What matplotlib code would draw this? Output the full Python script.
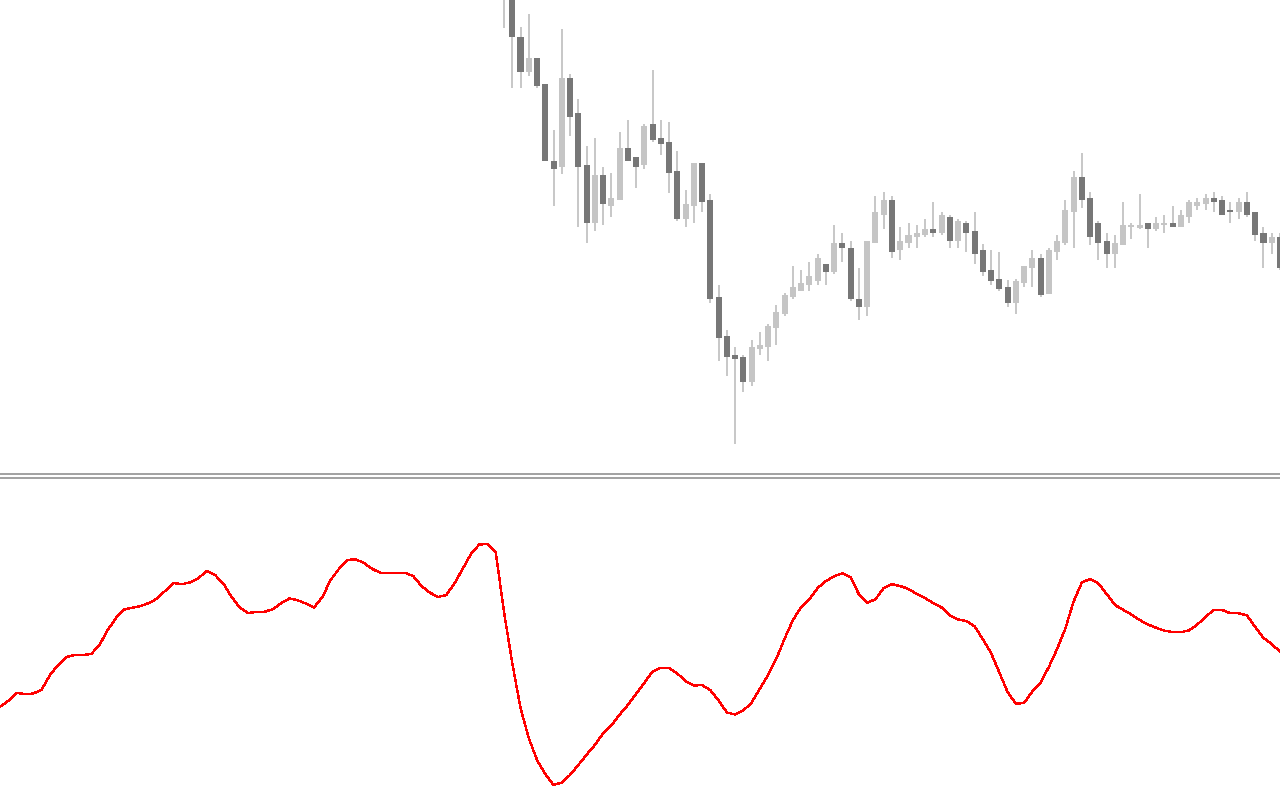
import numpy as np
import matplotlib
matplotlib.use("Agg")
import matplotlib.pyplot as plt

# ----------------------------
# Data
# ----------------------------

# candles: first visible candle sits on bar 61 of the oscillator series
CANDLE_START = 61

opens = [1.1510, 1.1508, 1.1463, 1.1428, 1.1442, 1.1416, 1.1339, 1.1333, 1.1422, 1.1387,
         1.1335, 1.1277, 1.1325, 1.1294, 1.1300, 1.1352, 1.1343, 1.1335, 1.1376, 1.1362,
         1.1358, 1.1329, 1.1281, 1.1294, 1.1337, 1.1300, 1.1203, 1.1164, 1.1145, 1.1143,
         1.1118, 1.1151, 1.1153, 1.1172, 1.1186, 1.1203, 1.1209, 1.1215, 1.1219, 1.1236,
         1.1228, 1.1257, 1.1252, 1.1201, 1.1193, 1.1257, 1.1285, 1.1300, 1.1250, 1.1257,
         1.1263, 1.1265, 1.1271, 1.1267, 1.1283, 1.1259, 1.1277, 1.1269, 1.1250, 1.1230,
         1.1221, 1.1213, 1.1197, 1.1217, 1.1232, 1.1242, 1.1206, 1.1248, 1.1257, 1.1288,
         1.1323, 1.1302, 1.1277, 1.1259, 1.1246, 1.1255, 1.1273, 1.1272, 1.1277, 1.1271,
         1.1275, 1.1277, 1.1273, 1.1283, 1.1294, 1.1296, 1.1302, 1.1300, 1.1290, 1.1288,
         1.1298, 1.1288, 1.1267, 1.1257, 1.1263]
highs = [1.1560, 1.1512, 1.1473, 1.1486, 1.1442, 1.1416, 1.1370, 1.1471, 1.1426, 1.1401,
         1.1354, 1.1362, 1.1333, 1.1327, 1.1368, 1.1380, 1.1343, 1.1376, 1.1430, 1.1380,
         1.1378, 1.1349, 1.1310, 1.1337, 1.1337, 1.1306, 1.1215, 1.1170, 1.1153, 1.1145,
         1.1160, 1.1168, 1.1176, 1.1195, 1.1207, 1.1234, 1.1230, 1.1238, 1.1246, 1.1236,
         1.1275, 1.1267, 1.1259, 1.1232, 1.1259, 1.1304, 1.1308, 1.1304, 1.1273, 1.1277,
         1.1275, 1.1281, 1.1298, 1.1288, 1.1285, 1.1281, 1.1279, 1.1288, 1.1256, 1.1250,
         1.1248, 1.1220, 1.1221, 1.1234, 1.1250, 1.1246, 1.1252, 1.1265, 1.1300, 1.1329,
         1.1347, 1.1308, 1.1279, 1.1267, 1.1265, 1.1298, 1.1277, 1.1306, 1.1277, 1.1283,
         1.1285, 1.1294, 1.1290, 1.1300, 1.1302, 1.1306, 1.1308, 1.1304, 1.1298, 1.1302,
         1.1308, 1.1288, 1.1273, 1.1267, 1.1267]
lows = [1.1472, 1.1412, 1.1412, 1.1424, 1.1412, 1.1339, 1.1294, 1.1326, 1.1364, 1.1273,
        1.1257, 1.1269, 1.1275, 1.1283, 1.1300, 1.1339, 1.1312, 1.1331, 1.1358, 1.1345,
        1.1307, 1.1279, 1.1273, 1.1277, 1.1288, 1.1197, 1.1139, 1.1124, 1.1056, 1.1108,
        1.1114, 1.1145, 1.1139, 1.1155, 1.1184, 1.1201, 1.1209, 1.1209, 1.1215, 1.1215,
        1.1226, 1.1238, 1.1199, 1.1180, 1.1184, 1.1257, 1.1271, 1.1242, 1.1240, 1.1252,
        1.1252, 1.1263, 1.1263, 1.1265, 1.1252, 1.1252, 1.1248, 1.1236, 1.1224, 1.1215,
        1.1209, 1.1193, 1.1186, 1.1213, 1.1213, 1.1203, 1.1206, 1.1240, 1.1255, 1.1252,
        1.1292, 1.1255, 1.1240, 1.1232, 1.1232, 1.1255, 1.1261, 1.1271, 1.1252, 1.1269,
        1.1267, 1.1273, 1.1273, 1.1277, 1.1290, 1.1290, 1.1288, 1.1285, 1.1277, 1.1281,
        1.1283, 1.1259, 1.1232, 1.1246, 1.1230]
closes = [1.1535, 1.1463, 1.1428, 1.1442, 1.1414, 1.1339, 1.1331, 1.1422, 1.1383, 1.1333,
          1.1277, 1.1325, 1.1296, 1.1302, 1.1352, 1.1339, 1.1333, 1.1374, 1.1360, 1.1356,
          1.1327, 1.1281, 1.1296, 1.1337, 1.1298, 1.1201, 1.1162, 1.1143, 1.1141, 1.1118,
          1.1153, 1.1155, 1.1174, 1.1188, 1.1205, 1.1213, 1.1217, 1.1224, 1.1242, 1.1228,
          1.1257, 1.1252, 1.1201, 1.1193, 1.1259, 1.1288, 1.1300, 1.1248, 1.1259, 1.1265,
          1.1267, 1.1271, 1.1267, 1.1285, 1.1259, 1.1279, 1.1267, 1.1246, 1.1228, 1.1219,
          1.1211, 1.1197, 1.1219, 1.1234, 1.1242, 1.1205, 1.1250, 1.1259, 1.1290, 1.1323,
          1.1300, 1.1263, 1.1257, 1.1246, 1.1257, 1.1275, 1.1275, 1.1275, 1.1271, 1.1277,
          1.1277, 1.1273, 1.1285, 1.1298, 1.1298, 1.1302, 1.1298, 1.1285, 1.1288, 1.1298,
          1.1285, 1.1265, 1.1257, 1.1263, 1.1232]

# oscillator, one value per bar (bar 0 at the left edge)
osc = [33.4, 35.8, 38.9, 38.3, 38.6, 40.2, 46.0, 50.0, 53.2, 54.0,
       54.0, 54.4, 58.0, 64.0, 68.8, 72.2, 72.9, 73.6, 74.8, 76.6,
       79.8, 82.8, 82.3, 83.1, 84.8, 87.6, 86.0, 82.6, 77.2, 73.0,
       70.8, 71.2, 71.3, 72.3, 74.7, 76.6, 75.9, 74.6, 73.0, 77.2,
       84.0, 88.4, 92.0, 92.3, 90.9, 88.5, 86.9, 86.9, 86.9, 86.9,
       85.6, 81.6, 79.0, 77.2, 78.0, 82.6, 88.5, 94.4, 98.2, 98.4,
       95.2, 71.2, 50.8, 32.8, 20.8, 12.0, 6.4, 2.0, 3.0, 6.0,
       10.0, 14.1, 18.0, 22.6, 25.8, 30.1, 34.0, 38.4, 42.9, 47.4,
       48.9, 48.8, 46.6, 43.5, 41.8, 42.0, 39.9, 35.8, 31.0, 30.2,
       31.8, 35.0, 40.6, 46.0, 52.6, 60.6, 68.0, 73.1, 76.4, 80.8,
       83.6, 85.5, 86.7, 85.0, 78.2, 74.9, 76.3, 80.8, 82.3, 81.6,
       80.4, 78.4, 76.8, 74.7, 73.0, 69.8, 68.2, 67.6, 65.4, 60.4,
       54.8, 47.0, 39.2, 34.5, 34.8, 39.4, 43.0, 49.2, 56.4, 64.6,
       75.4, 83.0, 84.4, 82.6, 78.4, 74.0, 72.1, 70.2, 68.0, 66.2,
       64.9, 63.7, 63.2, 63.1, 63.9, 66.2, 69.4, 72.0, 72.0, 70.7,
       70.7, 69.8, 65.2, 60.8, 58.4, 55.3]

# ----------------------------
# Styling
# ----------------------------

DARK = "#777777"
LIGHT = "#c5c5c5"
WICK = "#c8c8c8"
SEP = "#919191"
RED = "#ff0000"

W, H = 1280, 800
fig = plt.figure(figsize=(W / 100, H / 100), dpi=100, facecolor="white")

# price panel from the top down to the separator, oscillator below it
ax_p = fig.add_axes([0, (H - 474) / H, 1, 474 / H])
ax_o = fig.add_axes([0, 0, 1, (H - 478) / H])

for ax in (ax_p, ax_o):
    ax.set_facecolor("white")
    ax.set_xticks([])
    ax.set_yticks([])
    for s in ax.spines.values():
        s.set_visible(False)
    ax.set_xlim(-0.05, 155.0)

ax_p.spines["bottom"].set_visible(True)
ax_p.spines["bottom"].set_color(SEP)
ax_p.spines["bottom"].set_linewidth(1.2)
ax_o.spines["top"].set_visible(True)
ax_o.spines["top"].set_color(SEP)
ax_o.spines["top"].set_linewidth(1.2)

# ----------------------------
# Candles
# ----------------------------
o = np.array(opens)
h = np.array(highs)
l = np.array(lows)
c = np.array(closes)
xc = np.arange(len(o)) + CANDLE_START

ax_p.vlines(xc, l, h, color=WICK, lw=1.1, antialiased=False, zorder=2)
bull = c >= o
colors = np.where(bull, LIGHT, DARK)
ax_p.bar(xc, np.abs(c - o), bottom=np.minimum(o, c), width=0.73,
         color=colors, linewidth=0, antialiased=False, zorder=3)
ax_p.set_ylim(1.1500 - 474 / 10000, 1.1500)

# ----------------------------
# Oscillator
# ----------------------------
xo = np.arange(len(osc))
ax_o.plot(xo, osc, color=RED, lw=1.0, antialiased=False)
ax_o.set_ylim(-4.0, (790 - 478) / 2.5)

fig.savefig("out.png", dpi=100, facecolor="white")
